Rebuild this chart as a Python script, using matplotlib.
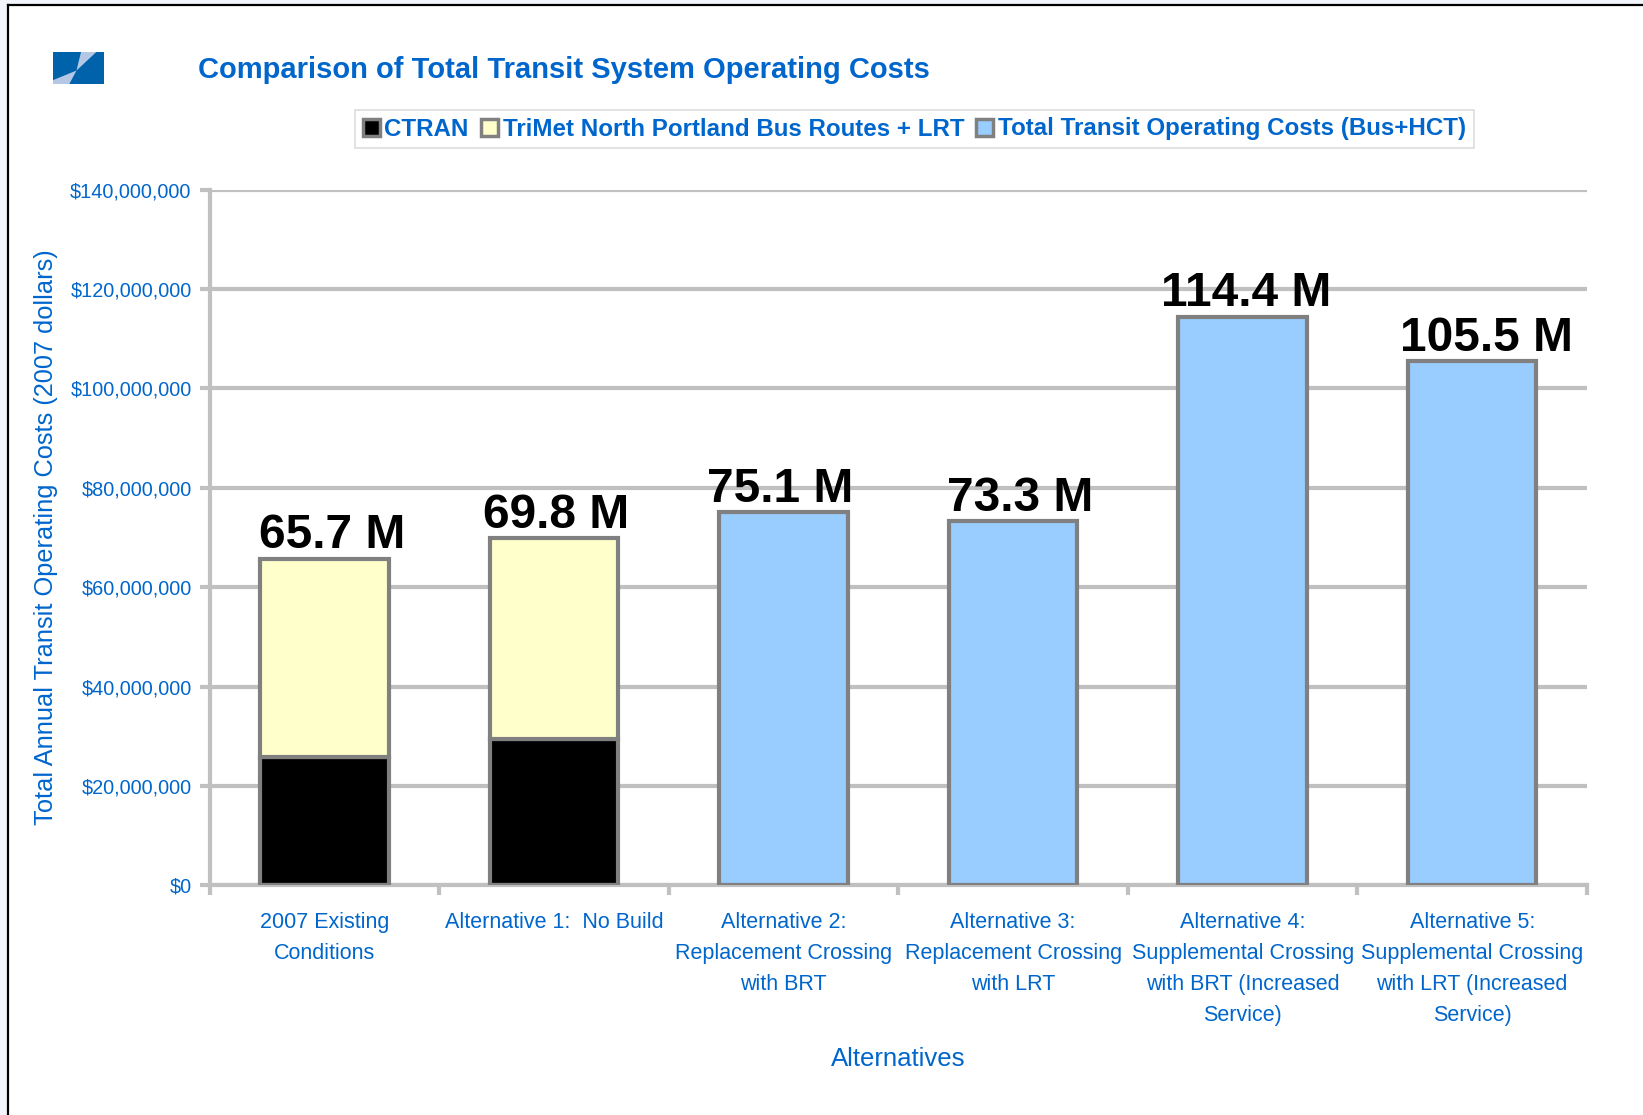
import matplotlib
matplotlib.use("Agg")
import matplotlib.pyplot as plt
import matplotlib.patches as mpatches
from matplotlib.ticker import FuncFormatter, FixedLocator
import numpy as np

plt.rcParams['font.family'] = ['Liberation Sans', 'DejaVu Sans']

# ---- data ----
categories = [
    "2007 Existing\nConditions",
    "Alternative 1:  No Build",
    "Alternative 2:\nReplacement Crossing\nwith BRT",
    "Alternative 3:\nReplacement Crossing\nwith LRT",
    "Alternative 4:\nSupplemental Crossing\nwith BRT (Increased\nService)",
    "Alternative 5:\nSupplemental Crossing\nwith LRT (Increased\nService)",
]
ctran = [25.8e6, 29.5e6, 0, 0, 0, 0]
trimet = [39.9e6, 40.3e6, 0, 0, 0, 0]
total_hct = [0, 0, 75.1e6, 73.3e6, 114.4e6, 105.5e6]
totals_label = ["65.7 M", "69.8 M", "75.1 M", "73.3 M", "114.4 M", "105.5 M"]
series_names = ["CTRAN", "TriMet North Portland Bus Routes + LRT",
                "Total Transit Operating Costs (Bus+HCT)"]
yticks = [0, 20e6, 40e6, 60e6, 80e6, 100e6, 120e6, 140e6]

BLUE = '#0066CC'
GRID = '#C0C0C0'
EDGE = '#808080'
C_CTRAN = '#000000'
C_TRIMET = '#FFFFCC'
C_HCT = '#99CCFF'

W, H = 1643, 1115
fig = plt.figure(figsize=(W / 100, H / 100), dpi=100)
fig.patch.set_facecolor('#F2F6FC')

# white panel with black left/top frame
panel = mpatches.Rectangle((8 / W, 0), 1, 1 - 5 / H, transform=fig.transFigure,
                           facecolor='white', edgecolor='none', zorder=0)
fig.add_artist(panel)
fig.add_artist(plt.Line2D([8 / W, 8 / W], [0, 1 - 4.5 / H], transform=fig.transFigure,
                          color='black', lw=1.6))
fig.add_artist(plt.Line2D([8 / W, 1], [1 - 4.5 / H, 1 - 4.5 / H], transform=fig.transFigure,
                          color='black', lw=1.6))

# logo
lx0, ly0, lw_, lh_ = 53 / W, 1 - 84 / H, 51 / W, 32 / H
fig.add_artist(mpatches.Rectangle((lx0, ly0), lw_, lh_, transform=fig.transFigure,
                                  facecolor='#0062AA', edgecolor='none'))
def lp(fx, fy):
    return (lx0 + fx * lw_, ly0 + fy * lh_)
fig.add_artist(mpatches.Polygon([lp(0.55, 1), lp(0.85, 1), lp(0.46, 0.42)],
                                transform=fig.transFigure, facecolor='#B4C8E6', edgecolor='none'))
fig.add_artist(mpatches.Polygon([lp(0.0, 0), lp(0.32, 0), lp(0.46, 0.42), lp(0.0, 0.12)],
                                transform=fig.transFigure, facecolor='#B4C8E6', edgecolor='none'))

# axes
ax = fig.add_axes([209.6 / W, 1 - 885.4 / H, (1587 - 209.6) / W, (885.4 - 189.6) / H])
ax.set_facecolor('none')
x = np.arange(len(categories))
bw = 0.56
blw = 3.0
ax.bar(x, ctran, bw, color=C_CTRAN, edgecolor=EDGE, linewidth=blw, zorder=3)
ax.bar(x, trimet, bw, bottom=ctran, color=C_TRIMET, edgecolor=EDGE, linewidth=blw, zorder=3)
ax.bar(x, total_hct, bw, color=C_HCT, edgecolor=EDGE, linewidth=blw, zorder=3)

label_dx = [5.3, 1.5, -2.3, 5.3, 2.3, 10.6]  # horizontal nudges (points)
tops = [c + t + h for c, t, h in zip(ctran, trimet, total_hct)]
for xi, top, lab, dx in zip(x, tops, totals_label, label_dx):
    ax.annotate(lab, (xi, top), xytext=(dx, 7.5), textcoords='offset points',
                ha='center', va='baseline', fontsize=34.5, fontweight='bold',
                color='black', zorder=5)

ax.set_xlim(-0.5, len(categories) - 0.5)
ax.set_ylim(0, 140e6)
ax.set_yticks(yticks)
ax.yaxis.set_major_formatter(FuncFormatter(lambda v, p: "${:,.0f}".format(v)))
ax.grid(axis='y', color=GRID, linewidth=3, zorder=1)
ax.set_axisbelow(True)
for s in ['top', 'right']:
    ax.spines[s].set_visible(False)
for s in ['left', 'bottom']:
    ax.spines[s].set_color(GRID)
    ax.spines[s].set_linewidth(3)
ax.tick_params(axis='y', colors=GRID, labelcolor=BLUE, labelsize=14.3, length=7,
               width=3, pad=6)
ax.set_xticks(x)
ax.set_xticklabels(categories, fontsize=15.5, color=BLUE, linespacing=1.62, va='top')
ax.xaxis.set_minor_locator(FixedLocator(np.arange(-0.5, len(categories), 1.0)))
ax.tick_params(axis='x', which='major', length=0, pad=19.5)
ax.tick_params(axis='x', which='minor', length=7, width=3, colors=GRID)

fig.text(46 / W, 1 - 537 / H, "Total Annual Transit Operating Costs (2007 dollars)",
         fontsize=18.3, color=BLUE, rotation=90, ha='center', va='center')
fig.text(898 / W, 1 - 1059 / H, "Alternatives", fontsize=18.5, color=BLUE,
         ha='center', va='center')

fig.text(198 / W, 1 - 70 / H, "Comparison of Total Transit System Operating Costs",
         fontsize=21.0, fontweight='bold', color=BLUE, ha='left', va='center')

handles = [mpatches.Patch(facecolor=c, edgecolor=EDGE, linewidth=2.5)
           for c in (C_CTRAN, C_TRIMET, C_HCT)]
leg = fig.legend(handles, series_names, loc='center', bbox_to_anchor=(914.5 / W, 1 - 129 / H),
                 ncol=3, frameon=True, fancybox=False, edgecolor='#D4D4D4',
                 prop={'size': 17.4, 'weight': 'bold'}, labelcolor=BLUE,
                 handlelength=0.7, handleheight=0.7, handletextpad=0.2,
                 columnspacing=0.5, borderpad=0.3, borderaxespad=0)
leg.get_frame().set_linewidth(1.2)

fig.savefig("out.png", dpi=100, facecolor=fig.get_facecolor())
